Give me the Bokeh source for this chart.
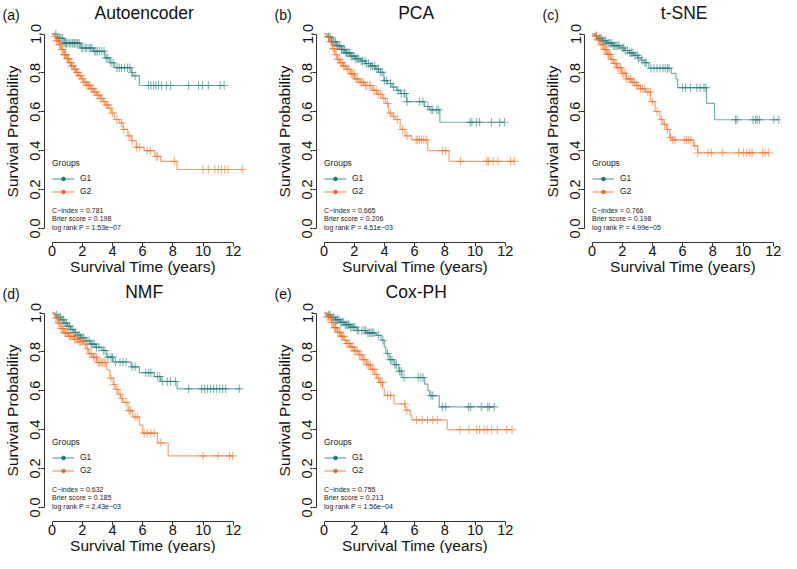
import numpy as np
from bokeh.plotting import figure
from bokeh.layouts import row, column
from bokeh.models import (Range1d, FixedTicker, PrintfTickFormatter, Label,
                          Legend, LegendItem)
from bokeh.embed import file_html
from bokeh.resources import INLINE

# ---------------- data ----------------
panel_letters = ["(a)", "(b)", "(c)", "(d)", "(e)"]
panel_titles = ["Autoencoder", "PCA", "t-SNE", "NMF", "Cox-PH"]
group_names = ["G1", "G2"]
c_index = ["0.781", "0.665", "0.766", "0.632", "0.755"]
brier = ["0.198", "0.206", "0.198", "0.185", "0.213"]
logrank_p = ["1.53e\u221207", "4.51e\u221203", "4.99e\u221205", "2.43e\u221203", "1.56e\u221204"]
x_ticks = [0, 2, 4, 6, 8, 10, 12]
y_ticks = [0.0, 0.2, 0.4, 0.6, 0.8, 1.0]

# (a) Autoencoder
a_g1_t = [0, 0.35, 0.8, 1.87, 2.74, 3.5, 3.83, 4.15, 5.24, 5.35, 5.78]
a_g1_s = [1.0, 0.978, 0.953, 0.928, 0.911, 0.877, 0.852, 0.827, 0.802, 0.785, 0.735]
a_g1_end = 11.4
a_g1_c = [0.25, 0.4, 0.5, 0.6, 0.7, 0.8, 0.9, 0.95, 1.05, 1.15, 1.25, 1.35, 1.45, 1.5, 1.6,
          1.7, 1.8, 1.95, 2.05, 2.2, 2.3, 2.45, 2.55, 2.65, 2.8, 2.9, 3.0, 3.15, 3.3, 3.45,
          3.6, 3.7, 3.9, 4.05, 4.3, 4.45, 4.6, 4.8, 5.0, 5.15, 5.3, 5.5, 6.39, 6.55, 6.72,
          6.87, 7.05, 7.26, 7.57, 7.85, 9.04, 9.70, 9.96, 10.35, 11.13, 11.4]
a_g2_t = [0, 0.13, 0.3, 0.46, 0.62, 0.78, 0.95, 1.11, 1.27, 1.43, 1.6, 1.76, 1.93, 2.09, 2.3,
          2.52, 2.74, 2.96, 3.17, 3.39, 3.55, 3.72, 3.94, 4.15, 4.48, 4.7, 5.02, 5.24, 5.57,
          6.1, 6.8, 7.2, 8.27]
a_g2_s = [1.0, 0.987, 0.965, 0.945, 0.92, 0.894, 0.873, 0.852, 0.835, 0.819, 0.802, 0.786,
          0.769, 0.752, 0.736, 0.719, 0.702, 0.685, 0.668, 0.652, 0.635, 0.618, 0.593, 0.56,
          0.543, 0.509, 0.476, 0.451, 0.417, 0.40, 0.37, 0.345, 0.303]
a_g2_end = 12.6
a_g2_c = [0.2, 0.3, 0.4, 0.5, 0.55, 0.65, 0.7, 0.8, 0.85, 0.9, 1.0, 1.05, 1.1, 1.2, 1.25, 1.3,
          1.4, 1.5, 1.55, 1.65, 1.7, 1.8, 1.9, 2.0, 2.1, 2.2, 2.3, 2.4, 2.5, 2.6, 2.7, 2.8,
          2.9, 3.0, 3.1, 3.2, 3.3, 3.45, 3.6, 3.7, 3.85, 4.0, 4.3, 4.6, 4.75, 5.1, 5.3, 5.6,
          5.8, 6.3, 6.5, 6.9, 7.0, 8.1, 10.0, 10.35, 10.78, 11.0, 11.22, 11.44, 11.66, 12.6]

# (b) PCA
b_g1_t = [0, 0.2, 0.5, 0.8, 1.15, 1.45, 1.79, 2.1, 2.44, 2.75, 3.09, 3.4, 3.63, 3.96, 4.2,
          4.5, 4.8, 5.04, 5.47, 6.66, 6.98, 7.67]
b_g1_s = [1.0, 0.985, 0.961, 0.94, 0.92, 0.903, 0.886, 0.873, 0.861, 0.848, 0.836, 0.82,
          0.803, 0.76, 0.745, 0.727, 0.71, 0.694, 0.652, 0.627, 0.61, 0.546]
b_g1_end = 11.95
b_g1_c = [0.3, 0.4, 0.5, 0.6, 0.65, 0.75, 0.85, 0.9, 1.0, 1.05, 1.15, 1.2, 1.3, 1.35, 1.45,
          1.5, 1.6, 1.7, 1.8, 1.9, 2.0, 2.1, 2.2, 2.3, 2.45, 2.55, 2.7, 2.8, 2.95, 3.1, 3.2,
          3.35, 3.5, 3.6, 3.75, 3.85, 4.0, 4.15, 4.4, 4.6, 4.9, 5.1, 5.3, 5.35, 5.5, 6.33,
          6.55, 6.87, 7.09, 7.2, 7.46, 7.59, 9.68, 9.79, 10.1, 10.3, 11.09, 11.63, 11.95]
b_g2_t = [0, 0.2, 0.39, 0.55, 0.71, 0.87, 1.04, 1.25, 1.47, 1.75, 2.01, 2.3, 2.66, 3.2, 3.5,
          3.85, 4.07, 4.28, 4.5, 4.71, 5.04, 5.36, 5.79, 6.87, 8.28]
b_g2_s = [1.0, 0.985, 0.96, 0.925, 0.894, 0.87, 0.852, 0.835, 0.819, 0.795, 0.769, 0.752,
          0.735, 0.71, 0.69, 0.669, 0.643, 0.593, 0.577, 0.56, 0.509, 0.476, 0.456, 0.40, 0.345]
b_g2_end = 12.6
b_g2_c = [0.3, 0.45, 0.6, 0.7, 0.8, 0.9, 1.0, 1.1, 1.2, 1.3, 1.4, 1.55, 1.65, 1.8, 1.9, 2.0,
          2.1, 2.2, 2.4, 2.5, 2.6, 2.75, 2.85, 3.0, 3.1, 3.3, 3.45, 3.6, 3.75, 3.95, 4.2, 4.4,
          4.6, 4.85, 5.2, 5.5, 6.1, 6.2, 6.32, 6.45, 6.6, 6.77, 7.85, 8.06, 9.04, 10.77,
          10.88, 11.2, 11.52, 12.35, 12.6]

# (c) t-SNE
c_g1_t = [0, 0.2, 0.36, 0.7, 1.0, 1.4, 1.85, 2.15, 2.48, 2.75, 3.02, 3.25, 3.44, 3.76, 5.25,
          5.56, 5.67, 7.58, 8.11]
c_g1_s = [1.0, 0.99, 0.978, 0.965, 0.953, 0.94, 0.928, 0.915, 0.903, 0.89, 0.877, 0.865,
          0.852, 0.824, 0.797, 0.769, 0.724, 0.643, 0.559]
c_g1_end = 12.37
c_g1_c = [0.3, 0.5, 0.6, 0.7, 0.8, 0.9, 1.0, 1.1, 1.2, 1.3, 1.4, 1.5, 1.6, 1.7, 1.8, 2.0,
          2.1, 2.2, 2.35, 2.5, 2.6, 2.7, 2.85, 3.0, 3.1, 3.3, 3.5, 3.6, 3.9, 4.1, 4.3, 4.5,
          4.7, 4.85, 5.0, 5.1, 6.0, 6.2, 6.52, 6.94, 7.16, 7.41, 7.54, 9.5, 9.6, 10.66,
          10.83, 10.94, 11.09, 12.04, 12.37]
c_g2_t = [0, 0.15, 0.36, 0.55, 0.78, 1.0, 1.21, 1.42, 1.63, 1.95, 2.27, 2.6, 2.91, 3.2, 3.55,
          3.87, 4.18, 4.5, 4.7, 4.93, 5.14, 5.3, 6.73, 7.0]
c_g2_s = [1.0, 0.99, 0.97, 0.945, 0.92, 0.895, 0.869, 0.848, 0.827, 0.798, 0.769, 0.752,
          0.735, 0.718, 0.702, 0.652, 0.601, 0.56, 0.535, 0.509, 0.467, 0.455, 0.425, 0.389]
c_g2_end = 11.7
c_g2_c = [0.2, 0.3, 0.4, 0.5, 0.6, 0.7, 0.8, 0.9, 0.95, 1.05, 1.1, 1.2, 1.3, 1.4, 1.5, 1.6,
          1.7, 1.8, 1.9, 2.0, 2.1, 2.2, 2.3, 2.45, 2.55, 2.7, 2.8, 2.95, 3.05, 3.2, 3.35,
          3.5, 3.7, 3.85, 4.0, 4.3, 4.6, 4.8, 5.0, 5.2, 5.35, 5.5, 6.1, 6.25, 6.4, 6.55,
          6.8, 7.0, 7.69, 7.9, 8.65, 9.71, 10.03, 10.24, 10.45, 10.6, 11.3, 11.45, 11.7]

# (d) NMF
d_g1_t = [0, 0.2, 0.4, 0.58, 0.8, 1.0, 1.23, 1.45, 1.65, 1.88, 2.2, 2.53, 2.9, 3.29, 3.62,
          4.05, 5.24, 5.78, 6.76, 7.19, 8.28]
d_g1_s = [1.0, 0.99, 0.978, 0.965, 0.948, 0.932, 0.915, 0.9, 0.887, 0.873, 0.857, 0.84,
          0.823, 0.807, 0.773, 0.748, 0.723, 0.693, 0.673, 0.648, 0.61]
d_g1_end = 12.5
d_g1_c = [0.3, 0.45, 0.55, 0.65, 0.75, 0.85, 0.95, 1.05, 1.15, 1.25, 1.35, 1.45, 1.55, 1.7,
          1.8, 1.9, 2.0, 2.1, 2.3, 2.45, 2.6, 2.7, 2.8, 2.95, 3.1, 3.4, 3.5, 3.7, 3.9, 4.0,
          4.2, 4.5, 4.7, 4.9, 5.3, 5.5, 6.2, 6.4, 6.54, 6.98, 7.13, 7.3, 7.63, 7.84, 8.17,
          9.04, 9.9, 10.1, 10.3, 10.5, 10.7, 10.9, 11.1, 11.3, 11.5, 12.4]
d_g2_t = [0, 0.2, 0.37, 0.6, 0.8, 1.1, 1.45, 1.8, 2.1, 2.25, 2.43, 2.7, 2.97, 3.62, 3.84,
          4.05, 4.2, 4.38, 4.55, 4.7, 5.03, 5.35, 5.78, 6.0, 6.98, 7.69]
d_g2_s = [1.0, 0.975, 0.948, 0.92, 0.898, 0.88, 0.865, 0.852, 0.84, 0.815, 0.79, 0.772,
          0.745, 0.707, 0.665, 0.632, 0.607, 0.582, 0.56, 0.54, 0.498, 0.465, 0.423, 0.382,
          0.332, 0.265]
d_g2_end = 11.96
d_g2_c = [0.25, 0.35, 0.45, 0.5, 0.6, 0.7, 0.75, 0.85, 0.9, 1.0, 1.05, 1.15, 1.2, 1.3, 1.4,
          1.5, 1.6, 1.7, 1.8, 1.9, 2.0, 2.2, 2.35, 2.5, 2.6, 2.75, 2.85, 2.95, 3.05, 3.15,
          3.25, 3.35, 3.45, 3.55, 3.9, 4.1, 4.3, 4.5, 4.65, 4.9, 5.1, 5.2, 5.5, 5.65, 6.1,
          6.3, 6.55, 6.76, 7.2, 10.0, 10.99, 11.75, 11.96]

# (e) Cox-PH
e_g1_t = [0, 0.2, 0.45, 0.75, 1.09, 1.4, 1.74, 2.17, 2.8, 3.45, 3.77, 3.99, 4.09, 4.31, 4.63,
          4.95, 5.16, 6.66, 6.88, 6.99, 7.63]
e_g1_s = [1.0, 0.99, 0.977, 0.965, 0.952, 0.94, 0.927, 0.91, 0.898, 0.885, 0.86, 0.826,
          0.792, 0.76, 0.734, 0.701, 0.668, 0.634, 0.601, 0.575, 0.517]
e_g1_end = 11.27
e_g1_c = [0.3, 0.4, 0.55, 0.65, 0.75, 0.85, 0.9, 1.0, 1.1, 1.2, 1.3, 1.4, 1.5, 1.6, 1.65,
          1.75, 1.85, 1.95, 2.05, 2.2, 2.3, 2.5, 2.65, 2.75, 2.9, 3.0, 3.1, 3.2, 3.3, 3.6,
          3.9, 4.2, 4.4, 4.5, 4.7, 4.8, 5.0, 5.1, 5.3, 6.24, 6.41, 6.56, 7.09, 7.2, 7.84,
          8.06, 9.56, 9.71, 10.41, 10.84, 10.95, 11.27]
e_g2_t = [0, 0.2, 0.45, 0.65, 0.88, 1.1, 1.31, 1.5, 1.74, 2.0, 2.27, 2.55, 2.81, 3.1, 3.34,
          3.5, 3.67, 3.88, 3.99, 4.63, 5.38, 5.7, 5.81, 8.16]
e_g2_s = [1.0, 0.98, 0.951, 0.925, 0.901, 0.88, 0.86, 0.843, 0.826, 0.805, 0.785, 0.76,
          0.734, 0.71, 0.684, 0.665, 0.643, 0.609, 0.576, 0.533, 0.50, 0.475, 0.45, 0.40]
e_g2_end = 12.45
e_g2_c = [0.2, 0.3, 0.4, 0.5, 0.6, 0.7, 0.75, 0.8, 0.9, 1.0, 1.05, 1.15, 1.2, 1.3, 1.4, 1.5,
          1.6, 1.7, 1.8, 1.9, 2.0, 2.1, 2.2, 2.35, 2.45, 2.6, 2.7, 2.85, 2.95, 3.05, 3.2,
          3.3, 3.45, 3.6, 3.75, 3.85, 4.2, 4.4, 5.34, 5.49, 6.13, 6.5, 6.85, 7.2, 7.52, 9.0,
          9.6, 10.1, 10.3, 10.6, 10.8, 11.1, 11.48, 12.1, 12.45]

# ---------------- geometry / styling ----------------
FONT = "Liberation Sans"
COL = {"G1": "#1b7676", "G2": "#f2691c"}
X_AXIS_AT = -0.5        # data x where the y axis line sits
Y_AXIS_AT = -0.075      # data y where the x axis line sits
PPX = 15.1              # pixels per year
PPY = 194.4             # pixels per unit of probability
TOP_TO_ONE = 33.5       # pixels from canvas top to S = 1.0
TITLE_MID = 12.5        # pixels from canvas top to the title's middle
LEGEND_BOTTOM = 0.163   # probability level of the legend's lower edge
STATS_Y = [0.094, 0.049, 0.004]


def step_value(t, s, q):
    idx = np.searchsorted(np.asarray(t), np.asarray(q), side="right") - 1
    return list(np.asarray(s)[idx])


def make_panel(i, groups, fig_w, fig_h, axis_px):
    xs0 = X_AXIS_AT - axis_px / PPX
    xs1 = xs0 + fig_w / PPX
    ys1 = 1.0 + TOP_TO_ONE / PPY
    ys0 = ys1 - fig_h / PPY
    p = figure(width=fig_w, height=fig_h, frame_width=fig_w, frame_height=fig_h,
               x_range=Range1d(xs0, xs1), y_range=Range1d(ys0, ys1), title=None,
               output_backend="svg", toolbar_location=None,
               min_border=0, min_border_left=0, min_border_right=0,
               min_border_top=0, min_border_bottom=0)
    p.outline_line_color = None
    p.xgrid.visible = False
    p.ygrid.visible = False
    p.background_fill_color = "white"
    p.border_fill_color = "white"

    legend_items = []
    for name, (t, s, end, cens) in zip(group_names, groups):
        col = COL[name]
        xs = list(t) + [end]
        ys = list(s) + [s[-1]]
        p.step(xs, ys, mode="after", line_color=col, line_alpha=0.6, line_width=1.2)
        p.scatter(cens, step_value(t, s, cens), marker="cross", size=8.5,
                  line_color=col, line_alpha=0.55, line_width=1.1)
        lr = p.line([np.nan], [np.nan], line_color=col, line_alpha=0.6, line_width=1.4)
        dr = p.scatter([np.nan], [np.nan], marker="circle", size=4.5, fill_color=col,
                       line_color=col)
        legend_items.append(LegendItem(label=name, renderers=[lr, dr]))

    leg = Legend(items=legend_items, title="Groups",
                 location=(int(round((0.0 - xs0) * PPX)),
                           int(round((LEGEND_BOTTOM - ys0) * PPY))),
                 title_text_font=FONT, title_text_font_size="8.5px",
                 title_text_font_style="normal", title_text_color="#222222",
                 title_standoff=5,
                 label_text_font=FONT, label_text_font_size="8.5px",
                 label_text_color="#222222",
                 glyph_width=22, glyph_height=9, label_height=9, label_standoff=6,
                 spacing=3, padding=0, margin=0,
                 background_fill_alpha=0, border_line_alpha=0)
    p.add_layout(leg, "center")

    # axes drawn at fixed data locations inside the frame
    for ax in (p.xaxis[0], p.yaxis[0]):
        ax.axis_line_color = "#333333"
        ax.major_tick_line_color = "#333333"
        ax.major_tick_out = 4
        ax.major_tick_in = 0
        ax.minor_tick_line_color = None
        ax.major_label_text_font = FONT
        ax.major_label_text_font_size = "14.5px"
        ax.major_label_text_color = "#111111"
        ax.axis_label_text_font = FONT
        ax.axis_label_text_font_size = "15.5px"
        ax.axis_label_text_font_style = "normal"
        ax.axis_label_text_color = "#111111"
    p.xaxis.fixed_location = Y_AXIS_AT
    p.xaxis.ticker = FixedTicker(ticks=x_ticks)
    p.xaxis.bounds = (x_ticks[0], x_ticks[-1])
    p.xaxis.axis_label = "Survival Time (years)"
    p.xaxis.major_label_standoff = -1
    p.xaxis.axis_label_standoff = -1
    p.yaxis.fixed_location = X_AXIS_AT
    p.yaxis.ticker = FixedTicker(ticks=y_ticks)
    p.yaxis.bounds = (y_ticks[0], y_ticks[-1])
    p.yaxis.formatter = PrintfTickFormatter(format="%.1f")
    p.yaxis.major_label_orientation = "parallel"
    p.yaxis.axis_label = "Survival Probability"
    p.yaxis.major_label_standoff = 0
    p.yaxis.axis_label_standoff = 7

    # title and panel letter
    y_title = ys1 - TITLE_MID / PPY
    p.add_layout(Label(x=6.1, y=y_title, text=panel_titles[i], text_align="center",
                       text_baseline="middle", text_font=FONT,
                       text_font_size="17.5px", text_color="#111111"))
    p.add_layout(Label(x=X_AXIS_AT - 42.0 / PPX, y=y_title - 1.5 / PPY,
                       text=panel_letters[i], text_align="left", text_baseline="middle",
                       text_font=FONT, text_font_size="14px", text_color="#111111"))

    # statistics text
    stats = ["C\u2212index = " + c_index[i], "Brier score = " + brier[i],
             "log rank P = " + logrank_p[i]]
    for k, txt in enumerate(stats):
        p.add_layout(Label(x=0.0, y=STATS_Y[k], text=txt, text_align="left",
                           text_baseline="alphabetic", text_font=FONT,
                           text_font_size="7px", text_color="#222222"))
    return p


pa = make_panel(0, [(a_g1_t, a_g1_s, a_g1_end, a_g1_c), (a_g2_t, a_g2_s, a_g2_end, a_g2_c)],
                274, 279, 44)
pb = make_panel(1, [(b_g1_t, b_g1_s, b_g1_end, b_g1_c), (b_g2_t, b_g2_s, b_g2_end, b_g2_c)],
                268, 279, 42)
pc = make_panel(2, [(c_g1_t, c_g1_s, c_g1_end, c_g1_c), (c_g2_t, c_g2_s, c_g2_end, c_g2_c)],
                239, 279, 42)
pd = make_panel(3, [(d_g1_t, d_g1_s, d_g1_end, d_g1_c), (d_g2_t, d_g2_s, d_g2_end, d_g2_c)],
                274, 274, 44)
pe = make_panel(4, [(e_g1_t, e_g1_s, e_g1_end, e_g1_c), (e_g2_t, e_g2_s, e_g2_end, e_g2_c)],
                268, 274, 42)

layout = column(row(pa, pb, pc), row(pd, pe))
open("out.html", "w").write(file_html(layout, INLINE))
